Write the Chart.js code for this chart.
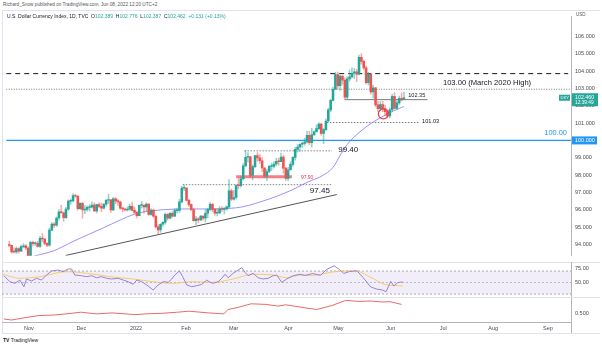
<!DOCTYPE html>
<html>
<head>
<meta charset="utf-8">
<script src="https://cdn.jsdelivr.net/npm/chart.js@4.4.1/dist/chart.umd.min.js"></script>
<style>
  html, body { margin: 0; padding: 0; background: #fff; }
  body { width: 602px; height: 346px; position: relative; overflow: hidden; font-family: 'Liberation Sans', Arial, sans-serif; }
  canvas { position: absolute; left: 0; }
  .txt { position: absolute; white-space: nowrap; color: #131722; line-height: 1; }
  .rule { position: absolute; background: #e0e3eb; }
  .up { color: #26a69a; }
</style>
</head>
<body>
<div class="txt" style="left:3px;top:3px;font-size:4.7px;color:#555">Richard_Snow published on TradingView.com, Jun 08, 2022 12:20 UTC+2</div>
<div class="rule" style="left:2px;top:10px;width:598px;height:1px"></div>
<div class="rule" style="left:2px;top:10px;width:1px;height:323px"></div>
<div class="rule" style="left:2px;top:262px;width:598px;height:1px"></div>
<div class="rule" style="left:2px;top:297px;width:598px;height:1px"></div>
<div class="rule" style="left:2px;top:333px;width:598px;height:1px"></div>
<div class="rule" style="left:571px;top:322px;width:1px;height:11px;background:#b2b5be"></div>

<canvas id="priceChart" width="602" height="252" style="top:10px"></canvas>
<canvas id="rsiChart" width="602" height="35" style="top:262px"></canvas>
<canvas id="lowerChart" width="602" height="35" style="top:298px"></canvas>

<div class="txt" style="left:7px;top:14px;font-size:5px">U.S. Dollar Currency Index, 1D, TVC &nbsp;O<span class="up">102.389</span> &nbsp;H<span class="up">102.776</span> &nbsp;L<span class="up">102.387</span> &nbsp;C<span class="up">102.462</span> &nbsp;<span class="up">+0.131 (+0.13%)</span></div>
<div class="txt" style="left:576px;top:13px;font-size:4.5px;color:#555">USD</div>
<div class="txt" style="left:3px;top:338px;font-size:5px;color:#131722"><b>TV</b> TradingView</div>

<script>
const FONT = "'Liberation Sans', Arial, sans-serif";
Chart.defaults.font.family = FONT;

// visible bar range (bar 0 = Mon 18 Oct 2021, bar 167 = Wed 8 Jun 2022)
const X_MIN = -1.3, X_MAX = 237.7;

// daily OHLC of TVC:DXY
const opens = [
  93.96, 93.95, 93.58, 93.57, 93.77, 93.62, 93.88, 93.93, 93.80, 93.33,
  94.12, 94.05, 94.07, 93.89, 94.35, 94.32, 94.07, 93.96, 94.83, 95.18,
  95.12, 95.53, 95.89, 95.83, 95.55, 96.04, 96.50, 96.52, 96.82, 96.78,
  96.07, 96.37, 95.99, 96.03, 96.14, 96.16, 96.28, 95.93, 96.30, 96.20,
  96.10, 96.32, 96.55, 96.58, 96.00, 96.64, 96.52, 96.45, 96.09, 96.05,
  96.00, 96.04, 96.20, 95.97, 95.85, 95.67, 96.26, 96.26, 96.17, 96.33,
  95.73, 95.98, 95.63, 95.02, 94.84, 95.17, 95.28, 95.74, 95.52, 95.80,
  95.64, 95.95, 95.97, 96.46, 97.25, 97.26, 96.54, 96.30, 96.02, 95.37,
  95.48, 95.42, 95.64, 95.52, 95.80, 96.03, 96.31, 96.03, 95.81, 95.82,
  96.04, 96.02, 96.05, 96.17, 97.09, 96.61, 96.71, 97.40, 97.39, 97.79,
  98.53, 99.03, 99.06, 97.98, 98.49, 99.12, 98.99, 98.83, 98.41, 97.94,
  98.21, 98.50, 98.50, 98.64, 98.80, 98.78, 99.04, 98.40, 97.81, 98.31,
  98.62, 99.02, 99.48, 99.62, 99.78, 99.83, 99.92, 100.30, 99.87, 100.32,
  100.50, 100.68, 100.94, 100.40, 100.62, 101.12, 101.76, 102.31, 102.95, 103.80,
  103.16, 103.71, 103.48, 102.50, 103.55, 103.66, 103.87, 103.95, 103.82, 104.79,
  104.56, 104.18, 103.33, 103.82, 102.80, 103.03, 102.05, 101.83, 102.06, 101.83,
  101.66, 101.41, 101.76, 102.54, 101.85, 102.16, 102.43, 102.39
];
const highs = [
  94.18, 93.97, 93.81, 93.86, 93.83, 93.97, 94.06, 94.00, 93.88, 94.19,
  94.20, 94.16, 94.18, 94.47, 94.63, 94.34, 94.10, 94.95, 95.27, 95.27,
  95.60, 96.01, 96.26, 95.89, 96.14, 96.57, 96.64, 96.94, 96.90, 96.83,
  96.42, 96.44, 96.24, 96.23, 96.30, 96.45, 96.40, 96.33, 96.40, 96.40,
  96.38, 96.60, 96.91, 96.60, 96.72, 96.70, 96.60, 96.50, 96.15, 96.10,
  96.17, 96.33, 96.44, 96.15, 95.92, 96.28, 96.47, 96.30, 96.40, 96.35,
  96.07, 96.05, 95.70, 95.13, 95.20, 95.31, 95.83, 95.79, 95.86, 95.90,
  96.07, 96.10, 96.60, 97.35, 97.44, 97.28, 96.62, 96.35, 96.10, 95.62,
  95.55, 95.68, 95.66, 96.01, 96.10, 96.43, 96.37, 96.08, 96.06, 96.18,
  96.18, 96.14, 96.22, 97.74, 97.20, 97.12, 97.45, 97.80, 97.90, 98.66,
  99.42, 99.30, 99.10, 98.60, 99.14, 99.30, 99.20, 99.01, 98.45, 98.35,
  98.56, 98.70, 98.78, 98.97, 98.98, 99.27, 99.13, 98.43, 98.45, 98.76,
  99.07, 99.60, 99.76, 99.80, 99.92, 100.13, 100.53, 100.52, 100.70, 100.57,
  100.90, 101.03, 101.00, 100.70, 101.24, 101.86, 102.38, 103.07, 103.93, 103.94,
  103.76, 103.73, 103.61, 103.68, 104.07, 104.19, 104.16, 104.10, 104.92, 105.01,
  104.64, 104.30, 103.93, 103.83, 103.19, 103.05, 102.25, 102.24, 102.26, 102.03,
  101.78, 101.88, 102.66, 102.76, 102.28, 102.56, 102.74, 102.78
];
const lows = [
  93.87, 93.50, 93.50, 93.49, 93.50, 93.60, 93.81, 93.70, 93.28, 93.30,
  93.92, 93.93, 93.85, 93.83, 94.16, 93.99, 93.87, 93.90, 94.80, 94.98,
  95.05, 95.40, 95.80, 95.33, 95.50, 95.97, 96.33, 96.45, 96.73, 95.98,
  96.03, 95.52, 95.78, 95.92, 95.92, 96.10, 95.89, 95.82, 96.12, 95.90,
  96.05, 96.20, 96.35, 95.85, 95.95, 96.35, 96.25, 96.03, 95.88, 95.93,
  95.92, 95.98, 95.93, 95.79, 95.53, 95.66, 96.10, 95.80, 95.93, 95.68,
  95.68, 95.56, 94.95, 94.63, 94.70, 95.05, 95.18, 95.40, 95.48, 95.56,
  95.60, 95.80, 95.85, 96.40, 97.10, 96.50, 96.20, 95.95, 95.35, 95.14,
  95.25, 95.38, 95.40, 95.30, 95.55, 95.95, 95.89, 95.68, 95.65, 95.78,
  95.91, 95.77, 95.96, 96.12, 96.53, 96.55, 96.62, 97.20, 97.30, 97.72,
  98.50, 98.75, 97.88, 97.73, 98.43, 98.80, 98.67, 98.20, 97.86, 97.70,
  98.14, 98.26, 98.40, 98.55, 98.58, 98.78, 98.10, 97.69, 97.68, 98.29,
  98.50, 98.86, 99.33, 99.37, 99.59, 99.73, 99.84, 99.75, 99.63, 100.30,
  100.47, 100.62, 100.30, 99.82, 100.57, 101.06, 101.64, 102.28, 102.93, 102.97,
  102.88, 103.23, 102.37, 102.37, 103.41, 103.60, 103.58, 103.38, 103.78, 104.40,
  104.06, 103.25, 103.20, 102.66, 102.45, 101.94, 101.65, 101.72, 101.66, 101.43,
  101.29, 101.30, 101.64, 101.80, 101.81, 102.07, 102.28, 102.39
];
const closes = [
  93.95, 93.58, 93.57, 93.77, 93.62, 93.88, 93.93, 93.80, 93.33, 94.12,
  94.05, 94.07, 93.89, 94.35, 94.32, 94.07, 93.96, 94.83, 95.18, 95.12,
  95.53, 95.89, 95.83, 95.55, 96.04, 96.50, 96.52, 96.82, 96.78, 96.07,
  96.37, 95.99, 96.03, 96.14, 96.16, 96.28, 95.93, 96.30, 96.20, 96.10,
  96.32, 96.55, 96.58, 96.00, 96.64, 96.52, 96.45, 96.09, 96.05, 96.00,
  96.04, 96.20, 95.97, 95.85, 95.67, 96.26, 96.26, 96.17, 96.33, 95.73,
  95.98, 95.63, 95.02, 94.84, 95.17, 95.28, 95.74, 95.52, 95.80, 95.64,
  95.95, 95.97, 96.46, 97.25, 97.26, 96.54, 96.30, 96.02, 95.37, 95.48,
  95.42, 95.64, 95.52, 95.80, 96.03, 96.31, 96.03, 95.81, 95.82, 96.04,
  96.02, 96.05, 96.17, 97.09, 96.61, 96.71, 97.40, 97.39, 97.79, 98.53,
  99.03, 99.06, 97.98, 98.49, 99.12, 98.99, 98.83, 98.41, 97.94, 98.21,
  98.50, 98.50, 98.64, 98.80, 98.78, 99.04, 98.40, 97.81, 98.31, 98.62,
  99.02, 99.48, 99.62, 99.78, 99.83, 99.92, 100.30, 99.87, 100.32, 100.50,
  100.68, 100.94, 100.40, 100.62, 101.12, 101.76, 102.31, 102.95, 103.80, 103.16,
  103.71, 103.48, 102.50, 103.55, 103.66, 103.87, 103.95, 103.82, 104.79, 104.56,
  104.18, 103.33, 103.82, 102.80, 103.03, 102.05, 101.83, 102.06, 101.83, 101.66,
  101.41, 101.76, 102.54, 101.85, 102.16, 102.43, 102.33, 102.46
];

// moving average on price pane: [bar, value]
const maLine = [
  [8, 93.20], [10.4, 93.32], [18.8, 93.64], [27.2, 94.19], [39.8, 94.96], [53.7, 95.78],
  [60.8, 95.95], [74.7, 96.05], [81.8, 96.05], [95.7, 96.11], [107, 96.49], [119.7, 97.15],
  [124, 97.45], [128, 97.70], [132.3, 97.95], [137, 98.45], [140.5, 99.25], [143.5, 99.85],
  [148, 100.45], [153.3, 101.00], [159.6, 101.50], [166, 101.90], [167, 101.95]
];

// RSI pane: [bar, value]
const rsiLine = [
  [-0.5, 61.8], [2.0, 51.4], [4.1, 48.6], [6.2, 54.3], [7.9, 42.7], [9.0, 56.1], [11.1, 52.6],
  [13.2, 57.3], [15.3, 54.3], [17.4, 63.0], [19.5, 70.0], [22.3, 71.7], [24.4, 68.8], [26.5, 73.5],
  [27.9, 73.5], [29.3, 63.0], [32.1, 61.8], [34.2, 60.1], [36.3, 61.8], [38.4, 58.3], [40.5, 60.1],
  [42.6, 57.3], [44.7, 56.1], [47.5, 57.3], [49.6, 54.3], [51.7, 51.4], [53.8, 46.9], [55.3, 54.3],
  [57.4, 51.4], [59.5, 45.7], [62.2, 37.0], [64.3, 45.7], [66.4, 51.4], [68.5, 50.3], [70.0, 56.1],
  [71.3, 63.0], [73.2, 70.0], [74.6, 60.1], [76.3, 45.7], [78.4, 42.7], [80.5, 44.4], [82.6, 46.9],
  [84.7, 54.3], [86.1, 50.3], [87.4, 48.6], [89.5, 51.4], [91.0, 57.3], [92.4, 64.3], [93.7, 58.3],
  [95.8, 66.0], [97.9, 71.7], [99.4, 75.7], [100.8, 67.7], [102.1, 61.8], [104.2, 66.0], [106.3, 58.3],
  [108.4, 56.1], [110.5, 57.3], [112.6, 61.8], [114.1, 63.0], [116.2, 50.3], [118.3, 56.1], [121.0, 61.8],
  [123.9, 64.3], [126.0, 62.3], [129.2, 65.7], [132.5, 62.3], [134.9, 72.3], [138.2, 79.0], [140.6, 72.3],
  [142.2, 65.7], [144.6, 69.0], [147.8, 70.3], [150.3, 58.9], [153.6, 42.2], [156.0, 38.7], [158.4, 37.0],
  [160.0, 34.0], [162, 52.0], [163.3, 44.0], [165, 50.0], [167, 51.0]
];
const rsiSmooth = [
  [-1, 64.3], [6.2, 57.3], [14.6, 60.1], [25.8, 68.8], [34.2, 66.0], [44.0, 60.1], [53.8, 56.1],
  [62.2, 51.4], [70.6, 48.6], [79.0, 51.4], [87.4, 50.3], [95.8, 56.1], [104.2, 64.3], [112.6, 63.0],
  [118.3, 58.3], [123.9, 63.0], [127.6, 62.0], [139, 69.0], [147, 70.3], [153.6, 59.0], [160, 46.0],
  [167, 44.0]
];
const rsiBands = [70, 50, 30];

// lower indicator pane: [bar, value]
const lowerLine = [
  [-0.5, 0.386], [2.7, 0.366], [8, 0.41], [14.0, 0.454], [20.5, 0.466], [26, 0.49], [31.8, 0.522],
  [38.4, 0.488], [44.9, 0.508], [54.5, 0.474], [60, 0.49], [65.9, 0.500], [72, 0.52], [77.2, 0.542],
  [85.4, 0.508], [91.9, 0.488], [93.6, 0.576], [98.2, 0.622], [103.3, 0.690], [109.6, 0.678],
  [114.6, 0.644], [117.9, 0.670], [126, 0.610], [130.8, 0.576], [137.3, 0.656], [143, 0.758],
  [148.7, 0.738], [153.6, 0.746], [158.3, 0.726], [161.7, 0.732], [166.5, 0.678]
];

// axes
const priceTicks = [94, 95, 96, 97, 98, 99, 100, 101, 102, 103, 104, 105, 106];
const rsiTicks = [75, 50];
const lowerTicks = [0.5];
const monthTicks = [10, 32, 55, 76, 96, 119, 140, 162, 184, 205, 228];
const monthLabels = ['Nov', 'Dec', '2022', 'Feb', 'Mar', 'Apr', 'May', 'Jun', 'Jul', 'Aug', 'Sep'];

// drawn levels: [value, fromBar, toBar]
const dashedHigh = [103.85, X_MIN, 236.5];
const march2020High = [102.95, X_MIN, X_MAX];
const parity = [100.00, X_MIN, X_MAX];
const mayLow = [102.35, 142, 177];
const aprilHigh = [101.03, 134.4, 173.5];
const marchHigh = [99.40, 99.5, 136.5];
const januaryHigh = [97.45, 73.4, 136.5];
const supportZone = [97.90, 96, 119.6];
const trendLine = [[23.9, 93.37], [138.6, 96.88]];
const swingLow = [158.3, 101.53];

// text notes: [text, bar, value, style]
const notes = [
  ['103.00 (March 2020 High)', 183.5, 103.32, 'big'],
  ['102.35', 168.8, 102.62, 'small'],
  ['101.03', 174.7, 101.08, 'small'],
  ['100.00', 226.4, 100.42, 'blue'],
  ['99.40', 139.2, 99.47, 'bold'],
  ['97.45', 127.2, 97.12, 'bold'],
  ['97.90', 123.4, 97.88, 'red']
];
const noteStyles = {
  big: { font: '7.6px ' + FONT, color: '#131722' },
  small: { font: '5.6px ' + FONT, color: '#131722' },
  blue: { font: '7.4px ' + FONT, color: '#2196f3' },
  bold: { font: '8px ' + FONT, color: '#131722' },
  red: { font: '5px ' + FONT, color: '#f23645' }
};

const GREEN = '#26a69a', RED = '#ef5350';

function seg(lv) {
  return [{ x: lv[1], y: lv[0] }, { x: lv[2], y: lv[0] }];
}
function pts(list) {
  return list.map(p => ({ x: p[0], y: p[1] }));
}
function rightAxis(min, max, tickValues, digits) {
  return {
    type: 'linear',
    position: 'right',
    min: min,
    max: max,
    afterBuildTicks: s => { s.ticks = tickValues.map(v => ({ value: v })); },
    afterFit: s => { s.width = 31; s.paddingTop = 0; s.paddingBottom = 0; },
    grid: { display: false, drawTicks: false },
    border: { display: true, color: '#b2b5be', width: 1 },
    ticks: { padding: 4, color: '#4a4a4a', font: { size: 5.5 }, callback: v => Number(v).toFixed(digits) }
  };
}
const hiddenX = { type: 'linear', min: X_MIN, max: X_MAX, display: false, offset: false };

const upFlags = closes.map((c, i) => c >= opens[i]);

// labels and price tags over the main pane
const overlayPlugin = {
  id: 'overlay',
  afterDraw(chart) {
    const { ctx, scales: { x, y } } = chart;
    ctx.save();
    ctx.textBaseline = 'middle';
    ctx.textAlign = 'left';
    notes.forEach(n => {
      const st = noteStyles[n[3]];
      ctx.font = st.font;
      ctx.fillStyle = st.color;
      ctx.fillText(n[0], x.getPixelForValue(n[1]), y.getPixelForValue(n[2]));
    });

    // parity tag on the axis
    const yp = y.getPixelForValue(parity[0]);
    ctx.fillStyle = '#2196f3';
    ctx.fillRect(572, yp - 4, 25, 8);
    ctx.fillStyle = '#fff';
    ctx.font = '5.5px ' + FONT;
    ctx.fillText('100.000', 575, yp);

    // last price tag
    const yl = y.getPixelForValue(closes[closes.length - 1]);
    ctx.fillStyle = GREEN;
    ctx.fillRect(572, yl - 4.5, 26, 13);
    ctx.fillRect(559, yl - 3, 11, 6);
    ctx.fillStyle = '#fff';
    ctx.font = '5.3px ' + FONT;
    ctx.fillText(closes[closes.length - 1].toFixed(3), 575, yl - 0.5);
    ctx.font = '4.8px ' + FONT;
    ctx.fillText('12:39:49', 575, yl + 5);
    ctx.font = '4.2px ' + FONT;
    ctx.fillText('DXY', 560.5, yl);
    ctx.restore();
  }
};

new Chart(document.getElementById('priceChart'), {
  type: 'bar',
  data: {
    datasets: [
      {
        type: 'line', data: [{ x: swingLow[0], y: swingLow[1] }], showLine: false,
        pointRadius: 5, pointBorderColor: '#f23645', pointBackgroundColor: 'rgba(0,0,0,0)',
        pointBorderWidth: 1.2, order: 0
      },
      {
        data: closes.map((c, i) => ({ x: i, y: [opens[i], c] })),
        backgroundColor: upFlags.map(u => u ? GREEN : RED),
        barThickness: 1.9, minBarLength: 0.8, grouped: false, borderWidth: 0, order: 1
      },
      {
        data: closes.map((c, i) => ({ x: i, y: [lows[i], highs[i]] })),
        backgroundColor: upFlags.map(u => u ? 'rgba(38,166,154,0.5)' : 'rgba(239,83,80,0.5)'),
        barThickness: 0.9, grouped: false, borderWidth: 0, order: 2
      },
      {
        type: 'line', data: pts(maLine), borderColor: 'rgba(120,110,245,0.75)', borderWidth: 1,
        pointRadius: 0, tension: 0.4, cubicInterpolationMode: 'monotone', order: 3
      },
      {
        type: 'line', data: pts(trendLine), borderColor: '#555', borderWidth: 1, pointRadius: 0, order: 4
      },
      {
        type: 'line', data: seg(supportZone), borderColor: 'rgba(242,54,69,0.65)', borderWidth: 3,
        pointRadius: 0, order: 4
      },
      {
        type: 'line', data: seg(parity), borderColor: '#2196f3', borderWidth: 1.4, pointRadius: 0, order: 5
      },
      {
        type: 'line', data: seg(dashedHigh), borderColor: '#131722', borderWidth: 1,
        borderDash: [5, 4], pointRadius: 0, order: 5
      },
      {
        type: 'line', data: seg(march2020High), borderColor: '#555', borderWidth: 0.8,
        borderDash: [1, 1.5], pointRadius: 0, order: 5
      },
      {
        type: 'line', data: seg(mayLow), borderColor: '#787b86', borderWidth: 1, pointRadius: 0, order: 5
      },
      {
        type: 'line', data: seg(aprilHigh), borderColor: '#555', borderWidth: 0.8,
        borderDash: [1.5, 1.5], pointRadius: 0, order: 5
      },
      {
        type: 'line', data: seg(marchHigh), borderColor: '#666', borderWidth: 0.8,
        borderDash: [1.5, 1.5], pointRadius: 0, order: 5
      },
      {
        type: 'line', data: seg(januaryHigh), borderColor: '#666', borderWidth: 0.8,
        borderDash: [1.5, 1.5], pointRadius: 0, order: 5
      }
    ]
  },
  options: {
    responsive: false,
    animation: false,
    devicePixelRatio: 1,
    events: [],
    layout: { padding: { left: 2, right: 0, top: 0, bottom: 0 } },
    plugins: { legend: { display: false }, tooltip: { enabled: false } },
    scales: {
      x: hiddenX,
      y: rightAxis(93.35, 107.16, priceTicks, 3)
    }
  },
  plugins: [overlayPlugin]
});

// RSI pane
new Chart(document.getElementById('rsiChart'), {
  type: 'line',
  data: {
    datasets: [
      {
        data: pts(rsiLine), borderColor: '#9a82d6', borderWidth: 1, pointRadius: 0, order: 0
      },
      {
        data: pts(rsiSmooth), borderColor: 'rgba(245,200,80,0.85)', borderWidth: 1, pointRadius: 0,
        tension: 0.4, cubicInterpolationMode: 'monotone', order: 1
      },
      {
        data: [{ x: X_MIN, y: rsiBands[0] }, { x: X_MAX, y: rsiBands[0] }], borderColor: '#9598a1',
        borderWidth: 0.8, borderDash: [2, 2], pointRadius: 0, fill: '+2',
        backgroundColor: 'rgba(126,87,194,0.1)', order: 2
      },
      {
        data: [{ x: X_MIN, y: rsiBands[1] }, { x: X_MAX, y: rsiBands[1] }], borderColor: '#b2b5be',
        borderWidth: 0.8, borderDash: [2, 2], pointRadius: 0, order: 2
      },
      {
        data: [{ x: X_MIN, y: rsiBands[2] }, { x: X_MAX, y: rsiBands[2] }], borderColor: '#9598a1',
        borderWidth: 0.8, borderDash: [2, 2], pointRadius: 0, order: 2
      }
    ]
  },
  options: {
    responsive: false,
    animation: false,
    devicePixelRatio: 1,
    events: [],
    layout: { padding: { left: 2, right: 0, top: 0, bottom: 0 } },
    plugins: { legend: { display: false }, tooltip: { enabled: false } },
    scales: {
      x: hiddenX,
      y: rightAxis(24.8, 85.65, rsiTicks, 2)
    }
  }
});

// lower pane with the time axis
new Chart(document.getElementById('lowerChart'), {
  type: 'line',
  data: {
    datasets: [
      { data: pts(lowerLine), borderColor: 'rgba(229,80,80,0.85)', borderWidth: 1, pointRadius: 0 }
    ]
  },
  options: {
    responsive: false,
    animation: false,
    devicePixelRatio: 1,
    events: [],
    layout: { padding: { left: 2, right: 0, top: 0, bottom: 0 } },
    plugins: { legend: { display: false }, tooltip: { enabled: false } },
    scales: {
      x: {
        type: 'linear', min: X_MIN, max: X_MAX, offset: false,
        afterBuildTicks: s => { s.ticks = monthTicks.map(v => ({ value: v })); },
        afterFit: s => { s.height = 11; s.paddingLeft = 0; s.paddingRight = 0; },
        grid: { display: false, drawTicks: false },
        border: { display: true, color: '#b2b5be', width: 1 },
        ticks: {
          padding: 3, color: '#4a4a4a', font: { size: 5.5 }, maxRotation: 0, autoSkip: false,
          callback: v => monthLabels[monthTicks.indexOf(v)]
        }
      },
      y: rightAxis(0.326, 0.806, lowerTicks, 3)
    }
  }
});
</script>
</body>
</html>
